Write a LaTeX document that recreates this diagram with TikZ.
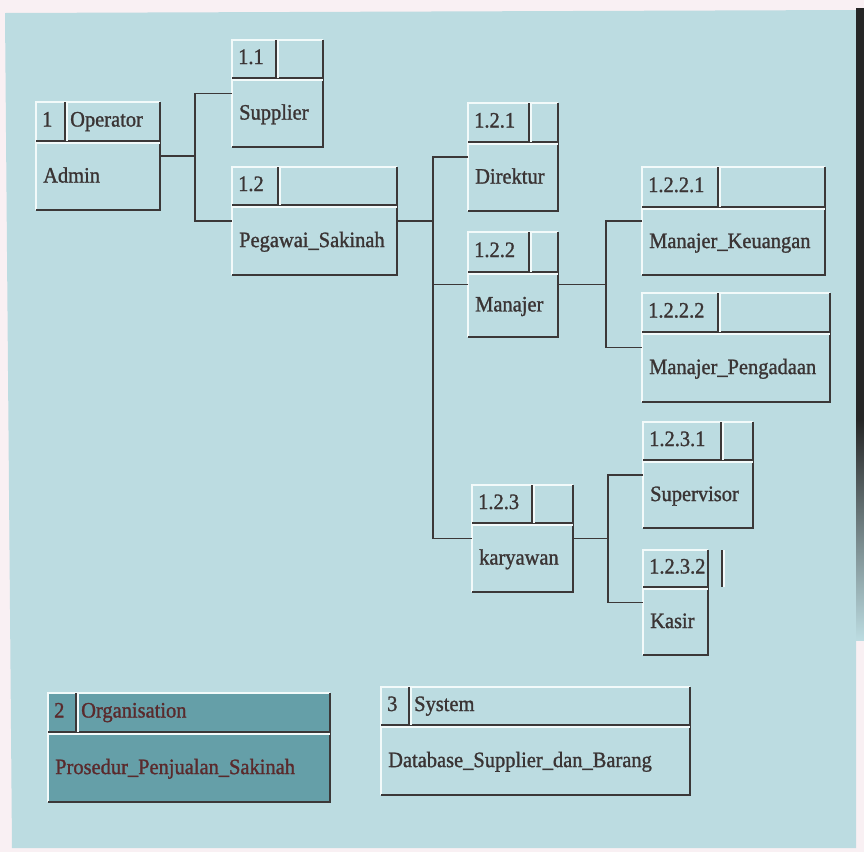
\documentclass[tikz,border=0pt]{standalone}
\usepackage{fontspec}
\setmainfont{Liberation Serif}
\newfontfamily\boxfont{Liberation Serif}[FakeStretch=0.93, FakeBold=1.2]
\usetikzlibrary{fit}

\definecolor{paper}{HTML}{F9F0F3}
\definecolor{panel}{HTML}{BCDCE1}
\definecolor{edge}{HTML}{3B3838}
\definecolor{lite}{HTML}{F2FAFA}
\definecolor{orgfill}{HTML}{659FA8}
\definecolor{ink}{HTML}{3A3434}
\definecolor{orgink}{HTML}{5A2A2C}

\tikzset{
  darkline/.style={draw=edge, line width=1.8pt},
  liteline/.style={draw=lite, line width=1.6pt},
  ubox/.style={inner sep=0pt, outer sep=0pt},
  conn/.style={draw=edge, line width=1.8pt},
  lbl/.style={anchor=west, inner sep=0pt, text=ink, text height=14pt, text depth=4pt,
    font=\boxfont\fontsize{22}{24}\selectfont},
}

% entity box: name, (left,top), (right,bottom), header y, divider x, id, title, body, fill
\newcommand\entbox[9]{%
  \path #2 coordinate (#1-nw) #3 coordinate (#1-se);
  \node[ubox, fill=#9, fit=(#1-nw)(#1-se)] (#1) {};
  \coordinate (#1-h) at (0,#4);
  \coordinate (#1-d) at (#5,0);
  \draw[liteline] (#1.south west) |- (#1.north east);
  \draw[darkline] (#1.north east) |- (#1.south west);
  \draw[darkline] (#1.west |- #1-h) -- (#1.east |- #1-h);
  \draw[liteline] ([yshift=-2pt]#1.west |- #1-h) -- ([yshift=-2pt]#1.east |- #1-h);
  \draw[darkline] (#1.north -| #1-d) -- (#1-h -| #1-d);
  \draw[liteline] ([xshift=2pt]#1.north -| #1-d) -- ([xshift=2pt]#1-h -| #1-d);
  \path (#1.north west) -- (#1.west |- #1-h) coordinate[pos=.5] (#1-hm);
  \path (#1.west |- #1-h) -- (#1.south west) coordinate[pos=.53] (#1-bm);
  \node[lbl] (#1-id) at ([xshift=6pt]#1-hm) {#6};
  \node[lbl] (#1-ti) at ([xshift=5pt]#1-d |- #1-hm) {#7};
  \node[lbl] (#1-tx) at ([xshift=7pt]#1-bm) {#8};
}

\begin{document}
\begin{tikzpicture}[x=1pt,y=-1pt]
  \useasboundingbox (0,0) rectangle (864,852);
  % page and panel
  \fill[paper] (0,0) rectangle (864,852);
  \fill[panel] (5,13) -- (856,10) -- (856,848) -- (12,848) -- cycle;
  \fill[black!85] (856,8) rectangle (864,420);
  \shade[top color=black!85, bottom color=panel] (856,420) rectangle (864,640);

  % junction columns
  \coordinate (j1) at (195,0);
  \coordinate (j2) at (433,0);
  \coordinate (j3) at (606,0);
  \coordinate (j4) at (608,0);

  \entbox{adm}{(36,102)}{(160,210)}{141}{65}{1}{Operator}{Admin}{panel}
  \entbox{sup}{(232,40)}{(323,147)}{78}{276}{1.1}{}{Supplier}{panel}
  \entbox{peg}{(232,167)}{(397,275)}{205}{278}{1.2}{}{Pegawai\_Sakinah}{panel}
  \entbox{dir}{(468,103)}{(558,211)}{142}{529}{1.2.1}{}{Direktur}{panel}
  \entbox{man}{(468,232)}{(558,337)}{272}{529}{1.2.2}{}{Manajer}{panel}
  \entbox{keu}{(642,167)}{(825,275)}{207}{718}{1.2.2.1}{}{Manajer\_Keuangan}{panel}
  \entbox{pen}{(642,293)}{(830,402)}{332}{718}{1.2.2.2}{}{Manajer\_Pengadaan}{panel}
  \entbox{kar}{(472,485)}{(573,592)}{523}{532}{1.2.3}{}{karyawan}{panel}
  \entbox{spv}{(643,422)}{(753,528)}{460}{721}{1.2.3.1}{}{Supervisor}{panel}
  \entbox{ksr}{(643,550)}{(708,655)}{587}{722}{1.2.3.2}{}{Kasir}{panel}
  \begin{scope}[lbl/.append style={text=orgink}]
    \entbox{org}{(48,693)}{(330,802)}{732}{76}{2}{Organisation}{Prosedur\_Penjualan\_Sakinah}{orgfill}
  \end{scope}
  \entbox{sys}{(381,687)}{(690,795)}{725}{409}{3}{System}{Database\_Supplier\_dan\_Barang}{panel}

  % connectors
  \draw[conn] (adm.east) -- (adm.east -| j1);
  \draw[conn] (sup.west) -- (sup.west -| j1) -- (peg.west -| j1) -- (peg.west);
  \draw[conn] (peg.east) -- (peg.east -| j2);
  \draw[conn] (dir.west) -- (dir.west -| j2) -- (kar.west -| j2) -- (kar.west);
  \draw[conn] (man.west) -- (man.west -| j2);
  \draw[conn] (man.east) -- (man.east -| j3);
  \draw[conn] (keu.west) -- (keu.west -| j3) -- (pen.west -| j3) -- (pen.west);
  \draw[conn] (kar.east) -- (kar.east -| j4);
  \draw[conn] (spv.west) -- (spv.west -| j4) -- (ksr.west -| j4) -- (ksr.west);
\end{tikzpicture}
\end{document}
